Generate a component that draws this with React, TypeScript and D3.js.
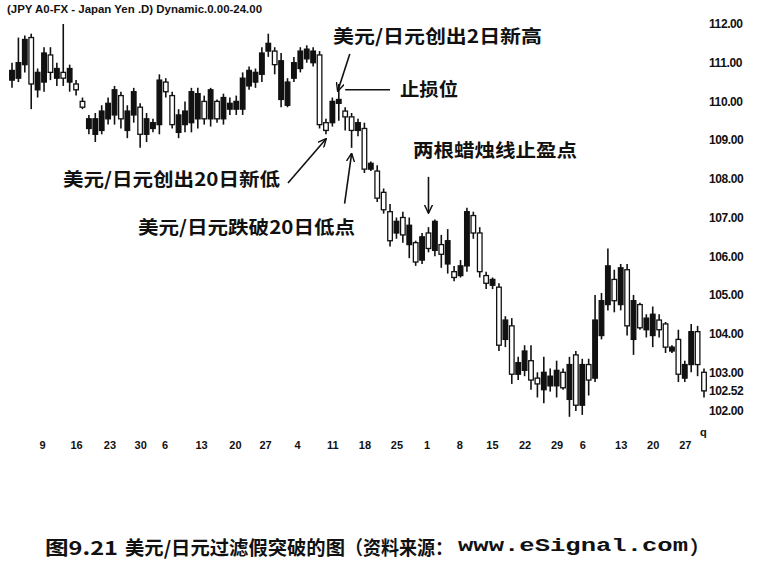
import React, { useEffect, useRef } from 'react';
import * as d3 from 'd3';

// candles, one per trading day (109 bars)
const highs = [111.0,111.65,111.7,111.75,110.85,111.4,111.4,111.0,112.0,110.95,
  110.55,110.1,109.65,109.7,109.9,110.1,110.4,110.25,109.9,110.35,
  109.95,109.7,109.55,110.7,110.6,110.25,109.8,110.0,110.35,110.35,
  110.15,110.35,110.05,110.2,110.1,110.15,110.75,110.9,110.85,111.4,
  111.75,111.4,111.25,110.6,111.15,111.4,111.45,111.4,111.3,109.55,
  110.1,110.45,109.85,109.7,109.55,109.45,108.45,108.35,107.75,107.35,
  107.0,107.15,107.0,106.4,106.6,106.75,106.95,106.55,106.7,105.75,
  105.9,107.25,107.15,106.75,105.6,105.45,105.3,104.45,104.4,103.4,
  103.7,103.7,103.0,103.4,103.1,103.3,103.1,103.4,103.55,103.35,
  103.35,105.0,105.05,106.2,105.65,105.8,105.8,105.0,104.8,104.5,
  104.7,104.5,104.3,103.7,104.1,103.3,104.25,104.2,103.1];
const lows = [110.35,110.5,110.75,109.8,110.1,110.25,110.55,110.4,110.4,110.25,
  110.15,109.8,109.15,108.95,109.15,109.4,109.4,109.3,109.05,109.45,
  108.8,108.95,109.2,109.15,110.1,109.3,109.05,109.2,109.2,109.3,
  109.4,109.35,109.45,109.4,109.65,109.65,109.65,110.3,110.35,110.5,
  111.15,110.7,109.85,109.85,110.5,110.75,111.0,110.9,109.3,109.15,
  109.35,109.5,109.25,108.8,109.1,108.15,108.2,107.4,107.1,106.25,
  106.45,106.35,105.95,105.75,105.8,106.1,106.0,105.7,105.55,105.35,
  105.45,105.6,106.45,105.45,105.15,105.15,103.55,103.65,102.7,102.8,
  102.9,102.55,102.35,102.2,102.5,102.35,102.55,101.85,102.0,101.9,
  102.4,102.75,103.85,104.6,104.55,104.6,103.95,103.45,104.1,103.9,
  103.65,103.9,103.5,103.5,102.75,102.75,103.0,102.9,102.35];
const opens = [110.55,110.6,110.95,111.65,110.3,110.5,111.2,110.6,110.75,110.5,
  110.45,110.0,109.3,109.15,109.25,109.55,109.65,110.15,109.25,109.65,
  109.85,109.15,109.3,109.4,110.5,110.15,109.2,109.4,109.45,109.55,
  110.0,109.55,110.0,109.55,109.8,109.8,109.8,110.4,110.5,110.7,
  111.3,111.3,110.05,109.9,110.6,110.85,111.1,111.0,111.2,109.45,
  109.45,109.95,109.75,109.6,109.25,109.3,108.25,108.2,107.65,107.15,
  106.6,107.0,106.3,106.35,105.9,106.6,106.15,106.3,105.8,105.6,
  105.5,105.75,107.05,106.6,105.5,105.25,105.2,103.85,104.2,102.95,
  103.05,103.3,102.85,102.55,102.65,102.65,103.0,102.3,103.45,102.15,
  103.2,102.85,103.95,104.75,105.4,104.75,105.65,103.85,104.75,104.1,
  103.95,104.35,104.25,103.55,103.85,102.85,103.2,104.05,103.0];
const closes = [110.8,111.0,111.6,110.45,110.75,111.25,110.75,110.85,110.6,110.85,
  110.3,109.85,109.55,109.55,109.75,109.95,110.3,109.55,109.75,110.25,
  109.15,109.55,109.45,110.55,110.25,109.4,109.65,109.75,110.25,110.2,
  109.55,110.3,109.55,110.1,109.95,110.0,110.6,110.8,110.75,111.25,
  111.5,110.95,111.05,110.5,111.0,111.3,111.35,111.3,109.4,109.25,
  110.0,110.05,109.6,109.25,109.45,108.25,108.4,107.5,107.2,106.4,
  106.9,106.55,106.8,105.85,106.5,106.2,106.9,106.05,106.4,105.45,
  105.75,107.15,106.6,105.6,105.3,105.4,103.7,104.35,102.95,103.25,
  103.55,102.8,102.7,103.0,102.9,103.05,102.6,103.2,102.15,103.2,
  102.8,104.35,104.85,105.75,104.85,105.7,104.2,104.85,104.15,104.4,
  104.5,104.1,103.65,103.65,102.95,103.2,104.05,103.2,102.52];

// weekly date labels along the bottom (bar index where they sit)
const dateTickIdx = [4.7,10,15.2,20,23.8,29.5,34.8,39.5,44.5,50,55,60,64.7,69.8,74.9,80,85,89,95,100,105];
const dateTickLabels = ['9','16','23','30','6','13','20','27','4','11','18','25','1','8','15','22','29','6','13','20','27'];
const priceTicks = [102,102.52,103,104,105,106,107,108,109,110,111,112];

const stopLoss = 110.3;

const W = 768;
const H = 561;
const CJK = '"Noto Sans CJK SC", "Noto Sans CJK JP", sans-serif';
const LAT = '"Liberation Sans", Arial, sans-serif';

export default function App() {
  const ref = useRef<SVGSVGElement>(null);

  useEffect(() => {
    if (!ref.current) return;
    const svg = d3.select(ref.current);
    svg.selectAll('*').remove();

    const n = closes.length;
    const x = d3.scaleLinear().domain([0, n - 1]).range([12, 704]);
    const y = d3.scaleLinear().domain([102, 112]).range([411, 24]);

    svg.append('rect').attr('width', W).attr('height', H).attr('fill', '#fff');

    const defs = svg.append('defs');
    defs.append('marker')
      .attr('id', 'arr')
      .attr('viewBox', '0 0 10 10')
      .attr('refX', 9)
      .attr('refY', 5)
      .attr('markerWidth', 9)
      .attr('markerHeight', 9)
      .attr('markerUnits', 'userSpaceOnUse')
      .attr('orient', 'auto')
      .append('path')
      .attr('d', 'M0,0.5 L9.5,5 L0,9.5')
      .attr('fill', 'none')
      .attr('stroke', '#111')
      .attr('stroke-width', 1.6);

    // header
    svg.append('text')
      .attr('x', 7).attr('y', 13)
      .attr('font-family', LAT).attr('font-weight', 700).attr('font-size', 10.5)
      .attr('textLength', 255).attr('lengthAdjust', 'spacingAndGlyphs')
      .attr('fill', '#111')
      .text('(JPY A0-FX - Japan Yen .D) Dynamic.0.00-24.00');

    // candles
    const g = svg.append('g');
    const bw = 4.6;
    d3.range(n).forEach(i => {
      const cx = x(i);
      g.append('line')
        .attr('x1', cx).attr('x2', cx)
        .attr('y1', y(highs[i])).attr('y2', y(lows[i]))
        .attr('stroke', '#111').attr('stroke-width', 1.6);
      const up = closes[i] > opens[i];
      const top = y(Math.max(opens[i], closes[i]));
      const bot = y(Math.min(opens[i], closes[i]));
      g.append('rect')
        .attr('x', cx - bw / 2).attr('y', top)
        .attr('width', bw).attr('height', Math.max(bot - top, 1.5))
        .attr('fill', up ? '#111' : '#fff')
        .attr('stroke', '#111').attr('stroke-width', 1.3);
    });

    // price axis
    const yAxis = svg.append('g')
      .attr('transform', 'translate(706,0)')
      .call(d3.axisRight(y).tickValues(priceTicks).tickFormat(d3.format('.2f')).tickSize(0).tickPadding(3));
    yAxis.select('.domain').remove();
    yAxis.selectAll('text')
      .attr('font-family', LAT).attr('font-weight', 700).attr('font-size', 12)
      .attr('fill', '#111').attr('letter-spacing', -0.4);

    // date axis
    const xAxis = svg.append('g')
      .attr('transform', 'translate(0,438)')
      .call(d3.axisBottom(x).tickValues(dateTickIdx)
        .tickFormat((_, i) => dateTickLabels[i]).tickSize(0).tickPadding(3));
    xAxis.select('.domain').remove();
    xAxis.selectAll('text')
      .attr('font-family', '"Liberation Sans Narrow", "Arial Narrow", ' + LAT)
      .attr('font-weight', 700).attr('font-size', 11).attr('fill', '#111');

    svg.append('text')
      .attr('x', 700).attr('y', 436)
      .attr('font-family', LAT).attr('font-weight', 700).attr('font-size', 11)
      .attr('fill', '#111').text('q');

    // stop-loss line
    svg.append('line')
      .attr('x1', x(52)).attr('x2', x(59))
      .attr('y1', y(stopLoss)).attr('y2', y(stopLoss))
      .attr('stroke', '#111').attr('stroke-width', 1.6);

    // arrows: tip anchored to a bar, tail offset in px
    const arrows = [
      { i: 51, p: 110.27, dx: 12, dy: -37 },
      { i: 49, p: 109.03, dx: -38, dy: 44 },
      { i: 53, p: 108.65, dx: -7, dy: 50 },
      { i: 65, p: 107.12, dx: 0, dy: -36 },
    ];
    arrows.forEach(a => {
      const tx = x(a.i) - (a.i === 51 ? 1 : 0);
      const ty = y(a.p);
      svg.append('line')
        .attr('x1', tx + a.dx).attr('y1', ty + a.dy)
        .attr('x2', tx).attr('y2', ty)
        .attr('stroke', '#111').attr('stroke-width', 1.6)
        .attr('marker-end', 'url(#arr)');
    });

    // annotations
    const notes = [
      { t: '美元/日元创出2日新高', x: 333, y: 35, len: 209 },
      { t: '止损位', x: 400, y: 88, len: 58 },
      { t: '两根蜡烛线止盈点', x: 413, y: 149, len: 164 },
      { t: '美元/日元创出20日新低', x: 63, y: 178, len: 217 },
      { t: '美元/日元跌破20日低点', x: 138, y: 226, len: 217 },
    ];
    notes.forEach(nt => {
      svg.append('text')
        .attr('x', nt.x).attr('y', nt.y)
        .attr('dominant-baseline', 'central')
        .attr('font-family', CJK).attr('font-weight', 700).attr('font-size', 18.5)
        .attr('textLength', nt.len).attr('lengthAdjust', 'spacingAndGlyphs')
        .attr('fill', '#111')
        .text(nt.t);
    });

    // caption
    const cap = [
      { t: '图9.21', x: 45, len: 73, f: CJK },
      { t: '美元/日元过滤假突破的图', x: 125, len: 220, f: CJK },
      { t: '（资料来源：', x: 345, len: 108, f: CJK },
      { t: 'www.eSignal.com', x: 458, len: 230, f: '"Liberation Mono", "DejaVu Sans Mono", monospace' },
      { t: '）', x: 690, len: 20, f: CJK },
    ];
    cap.forEach(c => {
      svg.append('text')
        .attr('x', c.x).attr('y', 546)
        .attr('dominant-baseline', 'central')
        .attr('font-family', c.f).attr('font-weight', 700).attr('font-size', 19)
        .attr('textLength', c.len).attr('lengthAdjust', 'spacingAndGlyphs')
        .attr('fill', '#111')
        .text(c.t);
    });
  }, []);

  return (
    <svg ref={ref} width={W} height={H} style={{ position: 'absolute', left: 0, top: 0 }} />
  );
}
